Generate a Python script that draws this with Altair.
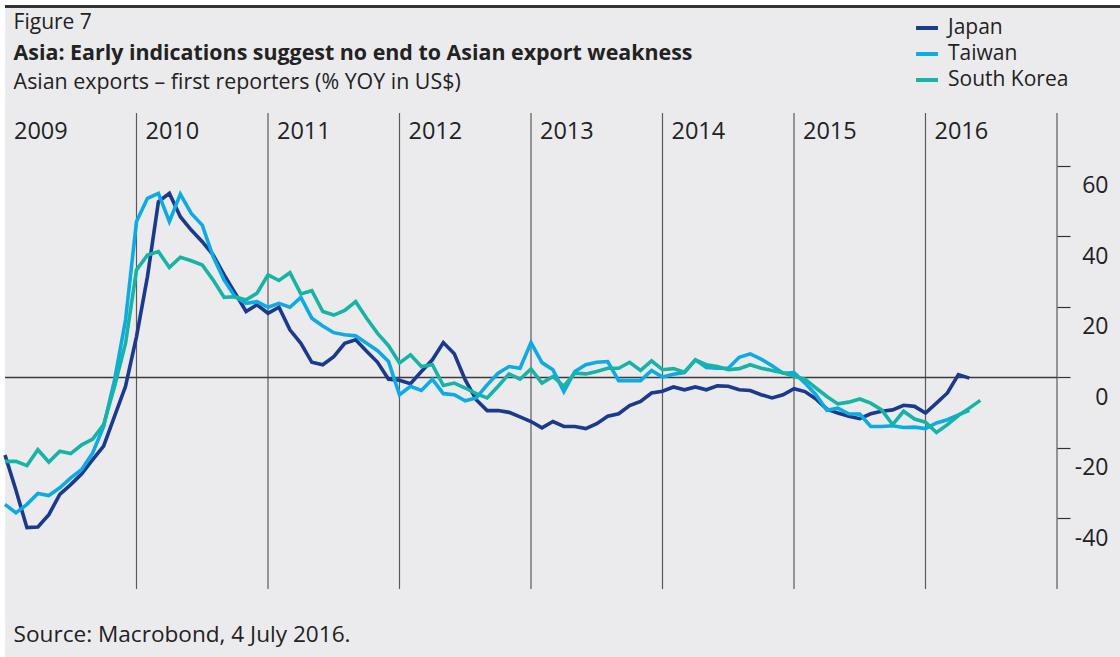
import altair as alt
import pandas as pd

# ---------------- data ----------------
start_year = 2009  # monthly data starting January 2009

japan = [-22, -32, -42.6, -42.4, -38.9, -33.2, -30.4, -27.3, -23.3, -19.5, -11, -2.5,
         11.6, 28.6, 49.8, 52.2, 45.6, 41.8, 38.5, 34.7, 29.1, 23.9, 18.7, 20.6,
         18.2, 19.9, 13.5, 9.7, 4.3, 3.6, 5.9, 9.7, 10.7, 7.4, 4.3, -0.5,
         -0.8, -1.8, 1.7, 5, 9.9, 6.7, -0.7, -6.3, -9.4, -9.4, -9.9, -11.2,
         -12.5, -14.3, -12.5, -13.9, -13.9, -14.5, -13.1, -11, -10.3, -8, -6.8, -4.4,
         -3.9, -2.7, -3.5, -2.7, -3.5, -2.4, -2.5, -3.5, -3.7, -4.9, -5.8, -4.9,
         -3.2, -4, -6.1, -9, -10.1, -11, -11.7, -10.3, -9.6, -9.2, -7.9, -8.2,
         -10.1, -7.3, -4.4, 0.8, -0.2]

taiwan = [-36, -38.4, -36, -32.9, -33.5, -31.3, -28.5, -26.1, -21.4, -13.9, -0.7, 16.3,
          44.2, 50.8, 52.2, 44.2, 52, 46.5, 43.2, 34.2, 27.6, 22.9, 21, 21.5,
          19.9, 21, 19.9, 22.7, 16.8, 14.6, 12.7, 12.1, 11.8, 9.7, 7.6, 4.5,
          -4.9, -2.5, -3.7, -0.5, -4.6, -4.9, -6.6, -5.8, -2.1, 1.2, 3.1, 2.6,
          9.9, 4.2, 2.2, -4, 1.7, 3.6, 4.3, 4.5, -0.9, -0.9, -0.9, 2,
          0.1, 0.9, 1.4, 5, 2.8, 2.6, 2.6, 5.7, 6.7, 5.2, 3.3, 1.2,
          1.4, -1.6, -4.9, -9.3, -8.7, -10.3, -10.4, -13.9, -13.9, -13.7, -14.2, -14.1,
          -14.5, -12.9, -12, -10.6, -9.3]

korea = [-23.8, -23.8, -25, -20.5, -24, -20.9, -21.6, -19.1, -17.5, -13.4, -2.5, 9.7,
         30.5, 34.7, 35.7, 31.2, 34.1, 33.1, 31.9, 27.6, 22.7, 22.9, 22, 23.9,
         29.1, 27.5, 29.7, 23.7, 24.6, 18.7, 17.7, 19, 21.5, 16.8, 12.5, 9,
         4.1, 6.4, 3.1, 3.6, -2.3, -1.6, -3, -4.6, -5.8, -2.5, 1, -0.5,
         2.4, -1.6, 0.3, -2.5, 1.2, 1, 1.7, 2.6, 2.6, 4.3, 2, 4.7,
         2.2, 2.5, 1.5, 5, 3.6, 3.1, 2.2, 2.5, 3.6, 2.6, 2, 1.3,
         0.3, -0.5, -3, -5.4, -7.5, -7, -6.1, -7.3, -9.2, -13.4, -9.6, -11.8,
         -12.7, -15.6, -13.4, -10.8, -8.7, -6.5]

countries = ["Japan", "Taiwan", "South Korea"]
colors = ["#1b3a8c", "#0eaae3", "#17b4a6"]
series = [japan, taiwan, korea]

year_labels = [2009, 2010, 2011, 2012, 2013, 2014, 2015, 2016]
year_lines = [2010, 2011, 2012, 2013, 2014, 2015, 2016, 2017]
y_ticks = [-40, -20, 0, 20, 40, 60]

fig_label = "Figure 7"
title = "Asia: Early indications suggest no end to Asian export weakness"
subtitle = "Asian exports \u2013 first reporters (% YOY in US$)"
source = "Source: Macrobond, 4 July 2016."

# ---------------- build tables ----------------
rows = []
for name, vals in zip(countries, series):
    for i, v in enumerate(vals):
        rows.append({"country": name, "t": start_year + i / 12.0, "value": v})
df = pd.DataFrame(rows)

FONT = "Open Sans"
BG = "#ebebee"
TXT = "#222222"
W, H = 1052, 476

xscale = alt.Scale(domain=[2009, 2017], nice=False, zero=False)
yscale = alt.Scale(domain=[-60, 75], nice=False, zero=False)

yaxis = alt.Axis(orient="right", values=y_ticks, tickSize=13, zindex=2,
                 tickColor="#333333", tickWidth=1.2, domain=False,
                 grid=False, labelAlign="right", labelPadding=38,
                 labelBaseline="middle", labelOffset=20,
                 labelFont=FONT, labelFontSize=23, labelColor=TXT,
                 labelExpr="'' + datum.value", title=None)

one = pd.DataFrame({"a": [0]})

bg = alt.Chart(one).mark_rect(color=BG).encode(
    x=alt.value(0), x2=alt.value(1115), y=alt.value(-108), y2=alt.value(544))

top_border = alt.Chart(one).mark_rule(color="#333333", strokeWidth=3).encode(
    x=alt.value(0), x2=alt.value(1115), y=alt.value(-106.5))

vlines = alt.Chart(pd.DataFrame({"t": year_lines})).mark_rule(
    color="#5a5a5a", strokeWidth=1.2).encode(
    x=alt.X("t:Q", scale=xscale, axis=None),
    y=alt.value(0), y2=alt.value(H))

zero_line = alt.Chart(pd.DataFrame({"value": [0]})).mark_rule(
    color="#3a3a3a", strokeWidth=1.5).encode(
    y=alt.Y("value:Q", scale=yscale, axis=yaxis),
    x=alt.value(0), x2=alt.value(W))

lines = alt.Chart(df).mark_line(strokeWidth=3.6, strokeJoin="miter").encode(
    x=alt.X("t:Q", scale=xscale, axis=None),
    y=alt.Y("value:Q", scale=yscale, axis=yaxis),
    color=alt.Color("country:N", sort=countries,
                    scale=alt.Scale(domain=countries, range=colors),
                    legend=alt.Legend(orient="none", legendX=909, legendY=-98,
                                      title=None, symbolType="stroke",
                                      symbolStrokeWidth=4, symbolSize=480,
                                      labelFont=FONT, labelFontSize=21,
                                      labelColor=TXT, labelOffset=8,
                                      rowPadding=3, padding=0)),
    order=alt.Order("t:Q"))

ylabels = alt.Chart(pd.DataFrame({"t": year_labels})).mark_text(
    align="left", baseline="middle", dx=9, font=FONT, fontSize=23.5,
    color=TXT).encode(
    x=alt.X("t:Q", scale=xscale, axis=None),
    y=alt.value(19), text=alt.Text("t:Q", format="d"))

def label(txt, y, size=20, bold=False):
    return alt.Chart(pd.DataFrame({"s": [txt]})).mark_text(
        align="left", baseline="alphabetic", font=FONT, fontSize=size,
        fontWeight="bold" if bold else "normal", color=TXT).encode(
        x=alt.value(8.6), y=alt.value(y), text="s:N")

t1 = label(fig_label, -84, 21)
t2 = label(title, -53, 21.4, True)
t3 = label(subtitle, -24, 21.4)
t4 = label(source, 529, 22.6)

chart = alt.layer(bg, top_border, vlines, zero_line, lines, ylabels,
                  t1, t2, t3, t4).properties(
    width=W, height=H,
    autosize=alt.AutoSizeParams(type="none"),
    padding={"left": 5, "top": 113, "right": 63, "bottom": 68},
).configure(background="#ffffff").configure_view(stroke=None)

chart.save("out.html", embed_options={"renderer": "svg", "actions": False})
